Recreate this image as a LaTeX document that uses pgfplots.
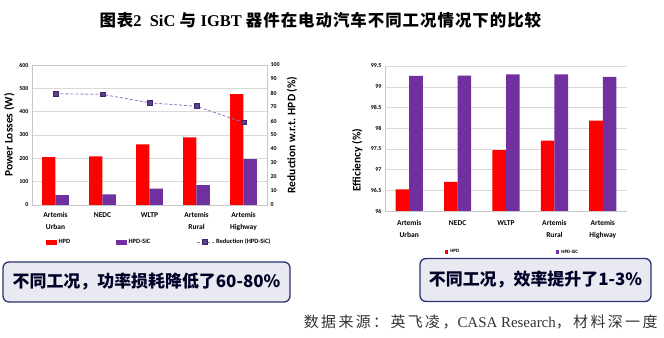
\documentclass[border=0pt]{standalone}
\usepackage{pgfplots}
\pgfplotsset{compat=1.18}
\usepackage{fontspec}
\setmainfont{Carlito}
\newfontfamily\cjk{Noto Sans CJK SC}
\newfontfamily\cjks[LetterSpace=16]{Noto Sans CJK SC}
\newfontfamily\cjkt[LetterSpace=6]{Noto Sans CJK SC}
\newfontfamily\tnr{Liberation Serif}
\definecolor{hpd}{HTML}{FF0000}
\definecolor{sic}{HTML}{7030A0}
\definecolor{linec}{HTML}{8878C0}
\definecolor{sqfill}{HTML}{5E3F8E}
\definecolor{sqdraw}{HTML}{3A2868}
\definecolor{boxfill}{HTML}{E9E9F2}
\definecolor{boxline}{HTML}{2E3270}
\definecolor{gridc}{HTML}{D9D9D9}
\newcommand\fs[1]{\fontsize{#1}{#1}\selectfont}
\pgfplotsset{
  /pgf/number format/assume math mode=true,
  common/.style={
    scale only axis,
    xmin=-0.5, xmax=4.5,
    xtick={0,...,4},
    major tick length=0pt,
    tick label style={font=\bfseries\fs{6}},
    axis line style={gridc!80!gray},
    grid style={gridc},
  },
}
\begin{document}
\begin{tikzpicture}
\path[use as bounding box, fill=white] (0bp,0bp) rectangle (664bp,338bp);

% title
\node[anchor=west] at (96bp,318bp) {\bfseries\fs{16.5}\cjkt 图表\tnr 2 \ SiC \cjkt 与 \tnr IGBT \cjkt 器件在电动汽车不同工况情况下的比较};

% left chart: power losses
\begin{axis}[common,
  at={(32bp,133bp)}, anchor=south west, width=235bp, height=140bp,
  ymin=0, ymax=600, ytick={0,100,...,600},
  ymajorgrids,
  xticklabels={{Artemis\\Urban},NEDC,WLTP,{Artemis\\Rural},{Artemis\\Highway}},
  xticklabel style={align=center, font=\bfseries\fontsize{7.5}{11.5}\selectfont, yshift=-4bp},
  ylabel={Power Losses (W)},
  ylabel style={font=\bfseries\fs{11.5}, anchor=center, at={(axis description cs:-0.097,0.5)}},
]
\addplot[ybar, bar width=13.3bp, bar shift=-6.65bp, fill=hpd, draw=none] coordinates {(0,205) (1,208) (2,260) (3,290) (4,475)};
\addplot[ybar, bar width=13.3bp, bar shift=6.65bp, fill=sic, draw=none] coordinates {(0,42) (1,45) (2,70) (3,85) (4,197)};
\end{axis}
\begin{axis}[common,
  at={(32bp,133bp)}, anchor=south west, width=235bp, height=140bp,
  axis y line*=right, axis x line=none,
  ymin=0, ymax=100, ytick={0,10,...,100},
  ylabel={Reduction w.r.t. HPD (\%)},
  ylabel style={font=\bfseries\fs{11.5}, anchor=center, at={(axis description cs:1.106,0.5)}},
  legend columns=3,
  legend style={at={(axis description cs:0.047,-0.265)}, anchor=west, draw=none, fill=none,
    font=\bfseries\fs{6.5}, /tikz/every even column/.append style={column sep=44bp}},
]
\addlegendimage{legend image code/.code={\fill[hpd] (0bp,-2.2bp) rectangle (10bp,2.2bp);}}
\addlegendentry{HPD}
\addlegendimage{legend image code/.code={\fill[sic] (0bp,-2.2bp) rectangle (10bp,2.2bp);}}
\addlegendentry{HPD-SiC}
\addplot[densely dashed, color=linec, line width=0.8bp, mark=square*, mark size=2.4bp,
  mark options={solid, fill=sqfill, draw=sqdraw}] coordinates {(0,79.5) (1,79) (2,73) (3,70.5) (4,59)};
\addlegendentry{Reduction (HPD-SiC)}
\end{axis}

% right chart: efficiency
\begin{axis}[common,
  at={(385bp,127bp)}, anchor=south west, width=242bp, height=145bp,
  axis x line*=bottom, axis y line*=left,
  ymin=96, ymax=99.5, ytick={96,96.5,97,97.5,98,98.5,99,99.5},
  yticklabels={96,96.5,97,97.5,98,98.5,99,99.5},
  ymajorgrids,
  xticklabels={{Artemis\\Urban},NEDC,WLTP,{Artemis\\Rural},{Artemis\\Highway}},
  xticklabel style={align=center, font=\bfseries\fontsize{7.5}{11.5}\selectfont, yshift=-6bp},
  ylabel={Efficiency (\%)},
  ylabel style={font=\bfseries\fs{11.5}, anchor=center, at={(axis description cs:-0.115,0.35)}},
  legend columns=2,
  legend style={at={(axis description cs:0.235,-0.283)}, anchor=west, draw=none, fill=none,
    font=\bfseries\fs{5}, /tikz/every even column/.append style={column sep=95bp}},
]
\addplot[ybar, bar width=13.6bp, bar shift=-6.8bp, fill=hpd, draw=none,
  legend image code/.code={\fill[hpd] (0bp,-1.6bp) rectangle (3.2bp,1.6bp);}] coordinates {(0,96.52) (1,96.70) (2,97.47) (3,97.70) (4,98.18)};
\addlegendentry{HPD}
\addplot[ybar, bar width=13.6bp, bar shift=6.8bp, fill=sic, draw=none,
  legend image code/.code={\fill[sic] (0bp,-1.6bp) rectangle (3.2bp,1.6bp);}] coordinates {(0,99.26) (1,99.27) (2,99.30) (3,99.30) (4,99.24)};
\addlegendentry{HPD-SiC}
\end{axis}

% callout boxes
\node[draw=boxline, line width=1.3bp, fill=boxfill, rounded corners=6bp,
  minimum width=287bp, minimum height=40bp, text=black!85!blue] at (146.5bp,56bp)
  {\bfseries\fs{17}\cjk 不同工况，功率损耗降低了60-80\%};
\node[draw=boxline, line width=1.3bp, fill=boxfill, rounded corners=6bp,
  minimum width=231bp, minimum height=43bp, text=black!85!blue] at (535.5bp,58bp)
  {\bfseries\fs{17}\cjk 不同工况，效率提升了1-3\%};

% source
\node[anchor=east, text=black!80] at (661bp,16bp) {\fs{15}\cjks 数据来源：英飞凌，\tnr CASA Research\cjks ，材料深一度};
\end{tikzpicture}
\end{document}
